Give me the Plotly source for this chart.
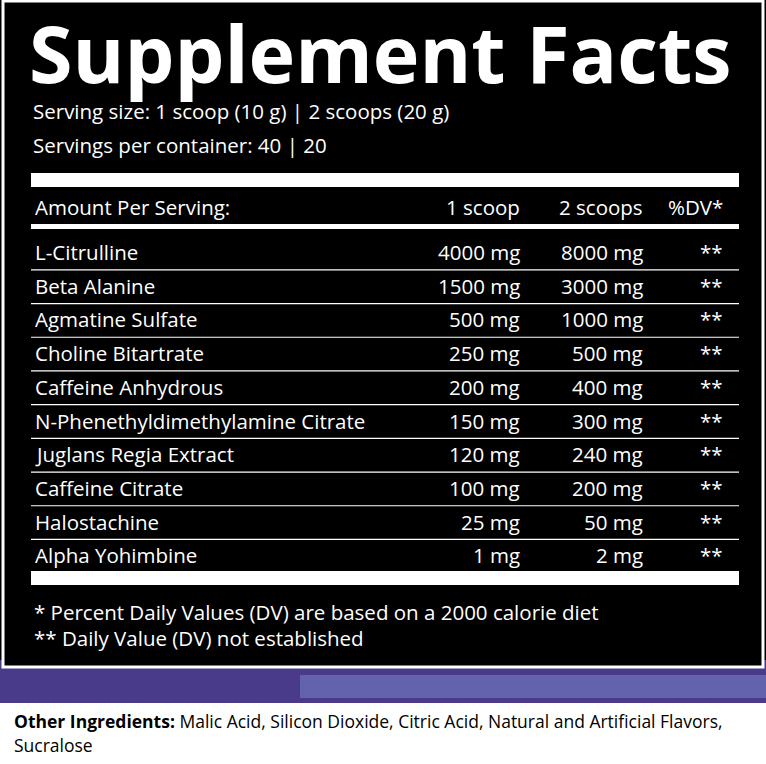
import plotly.graph_objects as go

title = "Supplement Facts"
serving_lines = ["Serving size: 1 scoop (10 g) | 2 scoops (20 g)", "Servings per container: 40 | 20"]
headers = ["Amount Per Serving:", "1 scoop", "2 scoops", "%DV*"]
ingredients = ["L-Citrulline", "Beta Alanine", "Agmatine Sulfate", "Choline Bitartrate",
               "Caffeine Anhydrous", "N-Phenethyldimethylamine Citrate", "Juglans Regia Extract",
               "Caffeine Citrate", "Halostachine", "Alpha Yohimbine"]
one_scoop = ["4000 mg", "1500 mg", "500 mg", "250 mg", "200 mg", "150 mg", "120 mg", "100 mg", "25 mg", "1 mg"]
two_scoops = ["8000 mg", "3000 mg", "1000 mg", "500 mg", "400 mg", "300 mg", "240 mg", "200 mg", "50 mg", "2 mg"]
dv = ["**"] * 10
footnotes = ["* Percent Daily Values (DV) are based on a 2000 calorie diet", "** Daily Value (DV) not established"]
other_label = "Other Ingredients:"
other_text = " Malic Acid, Silicon Dioxide, Citric Acid, Natural and Artificial Flavors,"
other_text2 = "Sucralose"

F = "Open Sans"
W = "white"
FS = 20.5
fig = go.Figure()
shapes = []
ann = []

shapes.append(dict(type="rect", x0=0, x1=766, y0=660, y1=705, fillcolor="#4a3a8a", line_width=0, layer="below"))
shapes.append(dict(type="rect", x0=300, x1=766, y0=675, y1=698, fillcolor="#7a8ad0", opacity=0.5, line_width=0, layer="below"))
shapes.append(dict(type="rect", x0=3, x1=763, y0=1, y1=667, fillcolor="black", line=dict(color=W, width=3)))
shapes.append(dict(type="rect", x0=0, x1=766, y0=703, y1=764, fillcolor="white", line_width=0))
shapes.append(dict(type="rect", x0=31, x1=739, y0=173, y1=187, fillcolor=W, line_width=0))
shapes.append(dict(type="rect", x0=31, x1=739, y0=224, y1=229, fillcolor=W, line_width=0))
shapes.append(dict(type="rect", x0=31, x1=739, y0=571, y1=585, fillcolor=W, line_width=0))

ann.append(dict(x=27, y=52, text=f"<b>{title}</b>", xanchor="left", yanchor="middle",
                font=dict(family=F, size=79, color=W)))
for i, s in enumerate(serving_lines):
    ann.append(dict(x=31, y=111 + 34 * i, text=s, xanchor="left", yanchor="middle",
                    font=dict(family=F, size=FS, color=W)))

cols_x = [33, 522, 645, 725]
anchors = ["left", "right", "right", "right"]
for j, h in enumerate(headers):
    ann.append(dict(x=cols_x[j], y=207, text=h, xanchor=anchors[j], yanchor="middle",
                    font=dict(family=F, size=FS, color=W)))

step = 33.7
for i, name in enumerate(ingredients):
    y = 252 + step * i
    for j, t in enumerate([name, one_scoop[i], two_scoops[i], dv[i]]):
        ann.append(dict(x=cols_x[j], y=y, text=t, xanchor=anchors[j], yanchor="middle",
                        font=dict(family=F, size=FS, color=W)))
    if i < len(ingredients) - 1:
        ly = y + step / 2 + 1
        shapes.append(dict(type="line", x0=31, x1=739, y0=ly, y1=ly, line=dict(color=W, width=1.2)))

for i, f in enumerate(footnotes):
    ann.append(dict(x=32, y=612 + 26 * i, text=f, xanchor="left", yanchor="middle",
                    font=dict(family=F, size=FS, color=W)))

ann.append(dict(x=12, y=721, text=f"<b>{other_label}</b>{other_text}", xanchor="left", yanchor="middle",
                font=dict(family=F, size=17.5, color="black")))
ann.append(dict(x=12, y=745, text=other_text2, xanchor="left", yanchor="middle",
                font=dict(family=F, size=17.5, color="black")))

for a in ann:
    a.update(showarrow=False, xref="x", yref="y")
fig.update_layout(width=766, height=764, margin=dict(l=0, r=0, t=0, b=0),
                  paper_bgcolor="black", plot_bgcolor="black", shapes=shapes, annotations=ann,
                  xaxis=dict(range=[0, 766], visible=False, fixedrange=True),
                  yaxis=dict(range=[764, 0], visible=False, fixedrange=True), showlegend=False)
fig.write_html("out.html", config={"displayModeBar": False},
               post_script="document.body.style.margin='0';document.body.style.overflow='hidden';")
